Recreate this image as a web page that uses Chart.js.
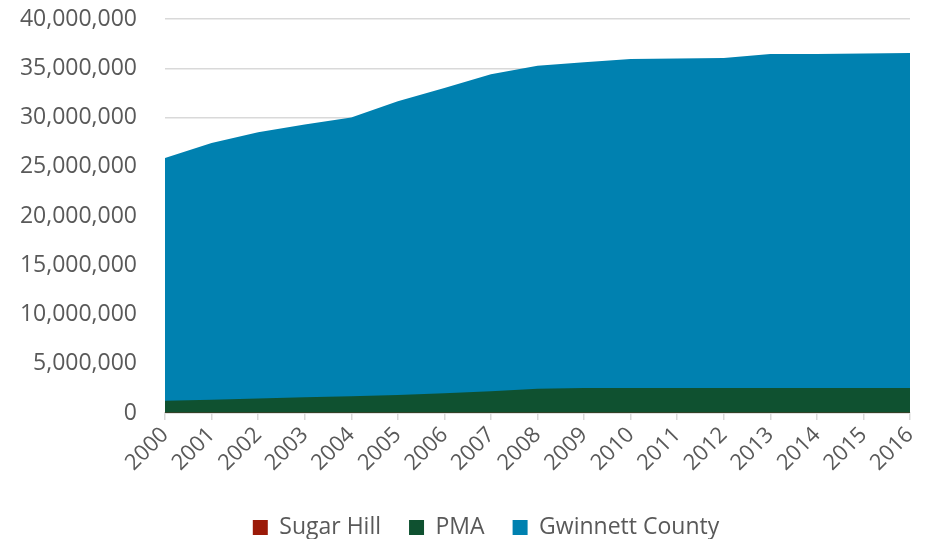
<!DOCTYPE html>
<html>
<head>
<meta charset="utf-8">
<script src="https://cdn.jsdelivr.net/npm/chart.js@4"></script>
<style>
    body { margin: 0; background: #ffffff; }
    #wrap { width: 926px; height: 539px; }
</style>
</head>
<body>
<div id="wrap"><canvas id="areaChart" width="926" height="539"></canvas></div>
<script>
const years = ['2000', '2001', '2002', '2003', '2004', '2005', '2006', '2007', '2008',
               '2009', '2010', '2011', '2012', '2013', '2014', '2015', '2016'];
const sugarHill = [18000, 19000, 20000, 21000, 22000, 23000, 25000, 27000, 29000,
                   30000, 31000, 31000, 31000, 31000, 31000, 31000, 31000];
const pma = [1250000, 1350000, 1480000, 1600000, 1700000, 1820000, 2000000, 2200000, 2450000,
             2550000, 2550000, 2550000, 2550000, 2550000, 2550000, 2550000, 2550000];
const gwinnett = [25900000, 27400000, 28500000, 29300000, 30000000, 31650000, 33000000, 34400000, 35250000,
                  35600000, 35950000, 36000000, 36050000, 36450000, 36450000, 36500000, 36550000];
const yTicks = [0, 5000000, 10000000, 15000000, 20000000, 25000000, 30000000, 35000000, 40000000];

const textColor = '#595959';
const gridColor = '#d9d9d9';
const font = { family: "'Open Sans', sans-serif", size: 23 };

function area(label, data, color)
{
    return {
        label: label,
        data: data,
        backgroundColor: color,
        borderColor: color,
        borderWidth: 0,
        pointRadius: 0,
        tension: 0,
        fill: 'origin'
    };
}

// nudge the legend so it sits centred under the plot like the original
const legendShift = {
    id: 'legendShift',
    afterLayout: function (chart)
    {
        const lg = chart.legend;
        lg.left += 62;
        lg.top += 10;
        lg.bottom += 10;
    }
};

const ctx = document.getElementById('areaChart').getContext('2d');
new Chart(ctx, {
    type: 'line',
    data:
    {
        labels: years,
        datasets:
        [
            area('Sugar Hill', sugarHill, '#9b1a08'),
            area('PMA', pma, '#0f5130'),
            area('Gwinnett County', gwinnett, '#0081b0')
        ]
    },
    plugins: [legendShift],
    options:
    {
        responsive: false,
        animation: false,
        layout: { padding: { left: 0, right: 16, top: 19, bottom: 0 } },
        plugins:
        {
            tooltip: { enabled: false },
            legend:
            {
                position: 'bottom',
                labels:
                {
                    boxWidth: 15,
                    boxHeight: 15,
                    padding: 28,
                    color: textColor,
                    font: font
                }
            }
        },
        scales:
        {
            x:
            {
                offset: false,
                grid: { drawOnChartArea: false, drawTicks: true, tickLength: 7, color: gridColor, lineWidth: 1.5 },
                border: { display: true, color: gridColor, width: 1.5 },
                ticks:
                {
                    color: textColor,
                    font: { family: font.family, size: 22 },
                    maxRotation: 45,
                    minRotation: 45,
                    autoSkip: false,
                    padding: 2
                },
                afterFit: function (scale)
                {
                    scale.height = 65;
                    scale.paddingLeft = 0;
                    scale.paddingRight = 0;
                }
            },
            y:
            {
                min: 0,
                max: 40000000,
                grid: { color: gridColor, lineWidth: 1.5, drawTicks: false },
                border: { display: false },
                afterBuildTicks: function (scale)
                {
                    scale.ticks = yTicks.map(function (v) { return { value: v }; });
                },
                ticks:
                {
                    color: textColor,
                    font: font,
                    padding: 28,
                    callback: function (v) { return v.toLocaleString('en-US'); }
                },
                afterFit: function (scale)
                {
                    scale.width = 165;
                    scale.paddingTop = 0;
                    scale.paddingBottom = 0;
                }
            }
        }
    }
});
</script>
</body>
</html>
